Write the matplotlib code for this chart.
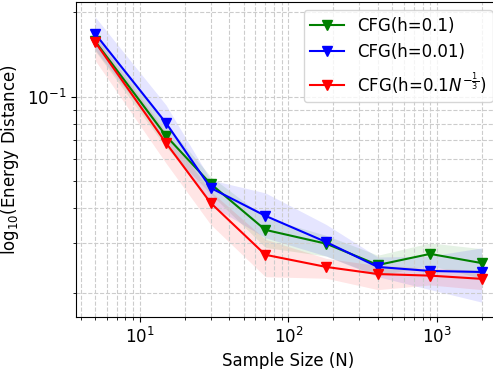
import matplotlib
matplotlib.use("Agg")
import matplotlib.pyplot as plt

# sample sizes
sizes = [5, 15, 30, 70, 180, 400, 900, 2000]

# CFG(h=0.1)
g_mean = [0.158, 0.0726, 0.0489, 0.0335, 0.0299, 0.0251, 0.0275, 0.0255]
g_low = [0.146, 0.066, 0.045, 0.029, 0.027, 0.0230, 0.0250, 0.0225]
g_high = [0.170, 0.080, 0.052, 0.037, 0.032, 0.0272, 0.0301, 0.0287]

# CFG(h=0.01)
b_mean = [0.168, 0.0807, 0.0473, 0.0376, 0.0303, 0.0247, 0.0239, 0.0237]
b_low = [0.147, 0.070, 0.041, 0.0314, 0.027, 0.0228, 0.0205, 0.0185]
b_high = [0.193, 0.0936, 0.0505, 0.0454, 0.0350, 0.0268, 0.0270, 0.0289]

# CFG(h=0.1 N^-1/3)
r_mean = [0.157, 0.0685, 0.0418, 0.0273, 0.0247, 0.0233, 0.0230, 0.0224]
r_low = [0.135, 0.058, 0.035, 0.0228, 0.0225, 0.0205, 0.0213, 0.0205]
r_high = [0.165, 0.075, 0.046, 0.031, 0.0265, 0.0250, 0.0245, 0.0240]

series = [
    ("CFG(h=0.1)", "green", g_mean, g_low, g_high),
    ("CFG(h=0.01)", "blue", b_mean, b_low, b_high),
    (r"CFG(h=0.1$N^{-\frac{1}{3}}$)", "red", r_mean, r_low, r_high),
]

fig = plt.figure(figsize=(4.93, 3.69), dpi=100)
ax = fig.add_axes([76 / 493, 52 / 369, 425 / 493, 315 / 369])

for label, color, mean, low, high in series:
    ax.plot(sizes, mean, marker="v", color=color, label=label, linewidth=1.5, markersize=7)
    ax.fill_between(sizes, low, high, color=color, alpha=0.1, linewidth=0)

ax.set_xscale("log")
ax.set_yscale("log")
ax.set_xlim(3.72, 2700)
ax.set_ylim(0.01637, 0.218)
ax.grid(True, which="both", linestyle="--", color="#cccccc", linewidth=0.8)
ax.tick_params(labelsize=12)
ax.set_xlabel("Sample Size (N)", fontsize=12)
ax.set_ylabel(r"log$_{10}$(Energy Distance)", fontsize=12)
ax.legend(loc="upper right", fontsize=12)

fig.savefig("out.png", dpi=100)
